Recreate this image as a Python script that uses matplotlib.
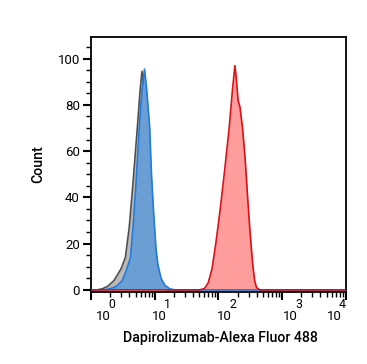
import matplotlib
matplotlib.use("Agg")
import matplotlib.pyplot as plt
from matplotlib.ticker import LogLocator, MultipleLocator
import numpy as np

plt.rcParams['font.family'] = ['Roboto', 'DejaVu Sans']

# log10 fluorescence positions and counts
grey_logx = [-0.5, 0.10, 0.18, 0.26, 0.36, 0.47, 0.54, 0.60, 0.65, 0.69, 0.73, 0.77, 0.80, 0.83, 0.87, 0.90, 0.93, 0.97, 1.01, 1.05, 1.09, 1.15, 1.20, 4.2]
grey_count = [0, 0, 0.5, 1.5, 4, 9, 14, 27, 43, 57, 71, 86, 94.5, 88, 71, 57, 43, 26, 13.5, 6, 2.5, 0.5, 0, 0]

blue_logx = [-0.5, 0.22, 0.30, 0.40, 0.49, 0.55, 0.62, 0.66, 0.70, 0.73, 0.76, 0.80, 0.84, 0.87, 0.92, 0.95, 0.98, 1.02, 1.05, 1.10, 1.16, 1.24, 1.32, 4.2]
blue_count = [0, 0, 0.5, 1.5, 4, 8, 14, 27, 43, 57, 71, 86, 95.5, 88, 71, 50, 35, 18, 11, 5, 2, 0.4, 0, 0]

red_logx = [-0.5, 1.70, 1.78, 1.84, 1.90, 1.96, 2.03, 2.10, 2.17, 2.22, 2.26, 2.28, 2.31, 2.34, 2.38, 2.42, 2.46, 2.50, 2.54, 2.57, 2.60, 2.65, 4.2]
red_count = [0, 0, 0.5, 3, 9, 20, 35, 52, 70, 86, 97, 92, 82, 79, 70, 57, 40, 24, 11, 4, 1, 0, 0]

xticks = [1, 10, 100, 1000, 10000]
xtick_exponents = ['0', '1', '2', '3', '4']
yticks = [0, 20, 40, 60, 80, 100]

W, H = 367, 364
fig = plt.figure(figsize=(W / 100, H / 100), dpi=100)
ax = fig.add_axes([91/W, 1-291.7/H, (345.7-91)/W, (291.7-36.7)/H])

def draw(logx, cnt, fc, ec, z):
    x = 10 ** np.asarray(logx)
    ax.fill_between(x, cnt, 0, color=fc, lw=0, zorder=z)
    ax.plot(x, cnt, color=ec, lw=1.2, zorder=z + 0.5)

draw(grey_logx, grey_count, '#b9b9b9', '#505050', 2)
draw(blue_logx, blue_count, '#6b9fd3', '#1f7be0', 3)
draw(red_logx, red_count, '#ff9c9c', '#dd0f17', 3)

ax.set_xscale('log')
ax.set_xlim(1, 10000)
ax.set_ylim(-0.8, 109.5)
ax.set_xticks(xticks)
ax.set_xticklabels([])
ax.xaxis.set_minor_locator(LogLocator(base=10, subs=np.arange(2, 10)))
ax.set_yticks(yticks)
ax.yaxis.set_minor_locator(MultipleLocator(5))

ax.tick_params(axis='both', which='major', length=6, width=1.5, labelsize=9.5, color='black', pad=2)
ax.tick_params(axis='both', which='minor', length=3.5, width=1)
for s in ax.spines.values():
    s.set_linewidth(1.3)

# x tick labels: base "10" with a near full-size raised exponent
offsets_px = [5, -3, -1, 1, -19]
fig.canvas.draw()
for xv, ex, dx in zip(xticks, xtick_exponents, offsets_px):
    px = ax.transData.transform((xv, 1))[0]
    fig.text((px + dx) / W, 1 - 319.5 / H, '10', ha='left', va='baseline', fontsize=9.5)
    fig.text((px + dx + 12) / W, 1 - 308.5 / H, ex, ha='left', va='baseline', fontsize=8.8)

ax.set_xlabel('Dapirolizumab-Alexa Fluor 488', fontsize=10.2, fontweight='medium')
ax.xaxis.set_label_coords(0.508, -0.155)
ax.set_ylabel('Count', fontsize=10.2, fontweight='medium', labelpad=9)

fig.savefig('out.png', dpi=100)
